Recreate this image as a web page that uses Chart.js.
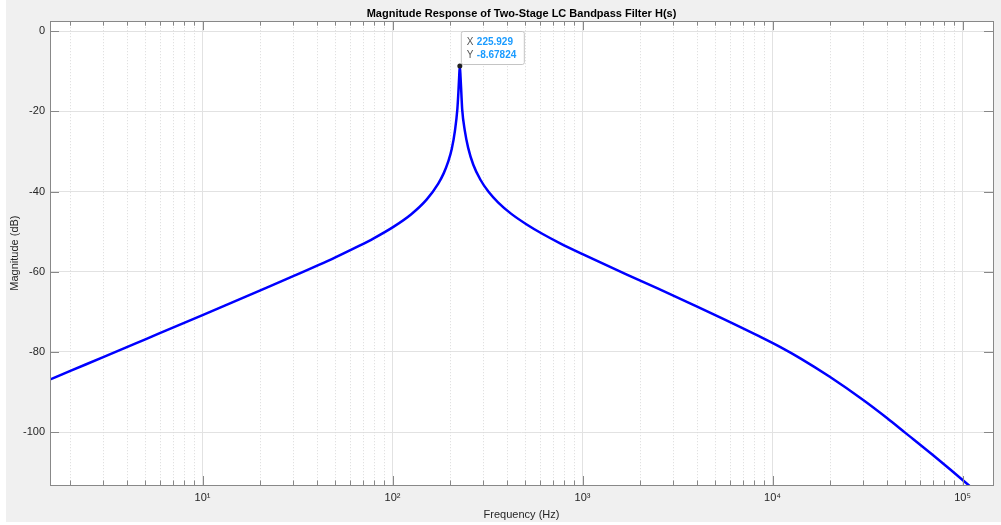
<!DOCTYPE html>
<html>
<head>
<meta charset="utf-8">
<title>Magnitude Response</title>
<script src="https://cdn.jsdelivr.net/npm/chart.js@4.4.1/dist/chart.umd.min.js"></script>
<style>
    html, body { margin: 0; padding: 0; background: #ffffff; }
    #wrap { position: absolute; left: 6px; top: 0; width: 995px; height: 522px; background: #f0f0f0; }
    canvas { display: block; }
</style>
</head>
<body>
<div id="wrap"><canvas id="bode" width="995" height="522"></canvas></div>
<script>
// Frequency axis (Hz) and magnitude (dB)
const freqHz = [1.5, 2, 3, 5, 10, 20, 30, 50, 67, 80, 101, 125, 151, 174, 186, 196, 205, 213, 219.3, 222, 224,
    225.929, 228, 230, 232.5, 240, 250, 266, 290, 320, 360, 420, 508, 620, 762, 1000, 1710, 2500, 3828, 5500,
    8590, 11000, 14000, 20000, 30000, 40000, 50000, 70000, 107400, 120000];
const magDb = [-87.3, -84.8, -81.3, -76.85, -70.8, -64.7, -61.1, -56.4, -53.5, -51.6, -48.8, -45.7, -42.0, -38.0, -35.4, -32.6, -29.3, -24.8, -19.4, -15.3, -11.6,
    -8.68, -11.6, -15.2, -19.5, -24.8, -29.1, -33.3, -37.05, -40.05, -42.75, -45.5, -48.2, -50.65, -52.9, -55.6, -60.7, -64.2, -68.25, -71.75,
    -76.2, -78.8, -81.6, -86.2, -92.0, -96.5, -100.2, -105.8, -113.2, -115.2];

// Axis limits and ticks
const xMin = 1.574, xMax = 144600;
const yMin = -113.2, yMax = 2.5;
const xTickValues = [10, 100, 1000, 10000, 100000];
const xTickLabels = ['10\u00b9', '10\u00b2', '10\u00b3', '10\u2074', '10\u2075'];
const xMinorSteps = [2, 3, 4, 5, 6, 7, 8, 9];
const xDecades = [1, 10, 100, 1000, 10000, 100000];
const yTickValues = [0, -20, -40, -60, -80, -100];

// Data tip
const peakFreq = 225.929;
const peakDb = -8.67824;
const peakLabels = ['225.929', '-8.67824'];

const xMinorTicks = [];
xDecades.forEach(d => xMinorSteps.forEach(m => xMinorTicks.push(d * m)));

const FONT = '"Liberation Sans", Arial, Helvetica, sans-serif';
const AXIS_COLOR = '#888888';

// White plot area, dotted minor grid, inward ticks, box and data tip
const matlabAxes = {
    id: 'matlabAxes',
    beforeDraw(chart) {
        const { ctx, chartArea: a } = chart;
        ctx.save();
        ctx.fillStyle = '#ffffff';
        ctx.fillRect(a.left, a.top, a.right - a.left, a.bottom - a.top);
        ctx.restore();
    },
    beforeDatasetsDraw(chart) {
        const { ctx, chartArea: a } = chart;
        const x = chart.scales.x;
        ctx.save();
        ctx.strokeStyle = '#dadada';
        ctx.lineWidth = 1;
        ctx.setLineDash([1, 2]);
        xMinorTicks.forEach(v => {
            const px = Math.round(x.getPixelForValue(v)) + 0.5;
            if (px <= a.left || px >= a.right) return;
            ctx.beginPath();
            ctx.moveTo(px, a.top);
            ctx.lineTo(px, a.bottom);
            ctx.stroke();
        });
        ctx.restore();
    },
    afterDatasetsDraw(chart) {
        const { ctx, chartArea: a } = chart;
        const x = chart.scales.x, y = chart.scales.y;
        ctx.save();
        ctx.strokeStyle = AXIS_COLOR;
        ctx.lineWidth = 1;

        // box
        ctx.strokeRect(Math.round(a.left) + 0.5, Math.round(a.top) + 0.5,
            Math.round(a.right - a.left), Math.round(a.bottom - a.top));

        // x ticks, bottom and top
        const xTick = (v, len) => {
            const px = Math.round(x.getPixelForValue(v)) + 0.5;
            if (px <= a.left || px >= a.right) return;
            ctx.beginPath();
            ctx.moveTo(px, a.bottom); ctx.lineTo(px, a.bottom - len);
            ctx.moveTo(px, a.top); ctx.lineTo(px, a.top + len);
            ctx.stroke();
        };
        xTickValues.forEach(v => xTick(v, 9));
        xMinorTicks.forEach(v => xTick(v, 4.5));

        // y ticks, left and right
        yTickValues.forEach(v => {
            const py = Math.round(y.getPixelForValue(v)) + 0.5;
            ctx.beginPath();
            ctx.moveTo(a.left, py); ctx.lineTo(a.left + 9, py);
            ctx.moveTo(a.right, py); ctx.lineTo(a.right - 9, py);
            ctx.stroke();
        });

        // data tip
        const px = x.getPixelForValue(peakFreq);
        const py = y.getPixelForValue(peakDb);
        const bx = px + 1, by = py - 35, bw = 63, bh = 33;
        ctx.fillStyle = 'rgba(255,255,255,0.97)';
        ctx.strokeStyle = '#c4c4c4';
        ctx.beginPath();
        ctx.roundRect(bx + 0.5, by + 0.5, bw, bh, 2);
        ctx.fill();
        ctx.stroke();

        ctx.textBaseline = 'middle';
        ctx.textAlign = 'left';
        ctx.font = '10px ' + FONT;
        ctx.fillStyle = '#555555';
        ctx.fillText('X', bx + 6, by + 11);
        ctx.fillText('Y', bx + 6, by + 24);
        ctx.font = 'bold 10px ' + FONT;
        ctx.fillStyle = '#1a9bff';
        ctx.fillText(peakLabels[0], bx + 16, by + 11);
        ctx.fillText(peakLabels[1], bx + 16, by + 24);

        ctx.beginPath();
        ctx.arc(px, py, 2.5, 0, Math.PI * 2);
        ctx.fillStyle = '#222222';
        ctx.fill();
        ctx.restore();
    }
};

const points = freqHz.map((f, i) => ({ x: f, y: magDb[i] }));

new Chart(document.getElementById('bode'), {
    type: 'line',
    data: {
        datasets: [{
            data: points,
            borderColor: '#0000ff',
            borderWidth: 2.5,
            pointRadius: 0,
            fill: false,
            cubicInterpolationMode: 'monotone'
        }]
    },
    options: {
        responsive: false,
        animation: false,
        layout: { padding: { left: 0, right: 8, top: 0, bottom: 0 } },
        plugins: {
            legend: { display: false },
            tooltip: { enabled: false },
            title: {
                display: true,
                text: 'Magnitude Response of Two-Stage LC Bandpass Filter H(s)',
                fullSize: false,
                color: '#000000',
                font: { family: FONT, size: 11, weight: 'bold' },
                padding: { top: 7, bottom: 1 }
            }
        },
        scales: {
            x: {
                type: 'logarithmic',
                min: xMin,
                max: xMax,
                afterBuildTicks: s => { s.ticks = xTickValues.map(v => ({ value: v })); },
                afterFit: s => { s.height = 37; },
                border: { display: false },
                grid: { color: '#e2e2e2', drawTicks: false },
                ticks: {
                    autoSkip: false,
                    maxRotation: 0,
                    padding: 6,
                    color: '#262626',
                    font: { family: FONT, size: 11 },
                    callback: v => {
                        const i = xTickValues.indexOf(v);
                        return i >= 0 ? xTickLabels[i] : '';
                    }
                },
                title: {
                    display: true,
                    text: 'Frequency (Hz)',
                    color: '#262626',
                    font: { family: FONT, size: 11 },
                    padding: { top: 3, bottom: 0 }
                }
            },
            y: {
                min: yMin,
                max: yMax,
                afterBuildTicks: s => { s.ticks = yTickValues.map(v => ({ value: v })); },
                afterFit: s => { s.width = 44; },
                border: { display: false },
                grid: { color: '#e2e2e2', drawTicks: false },
                ticks: {
                    padding: 5,
                    color: '#262626',
                    font: { family: FONT, size: 11 }
                },
                title: {
                    display: true,
                    text: 'Magnitude (dB)',
                    color: '#262626',
                    font: { family: FONT, size: 11 },
                    padding: { top: 2, bottom: 0 }
                }
            }
        }
    },
    plugins: [matlabAxes]
});
</script>
</body>
</html>
